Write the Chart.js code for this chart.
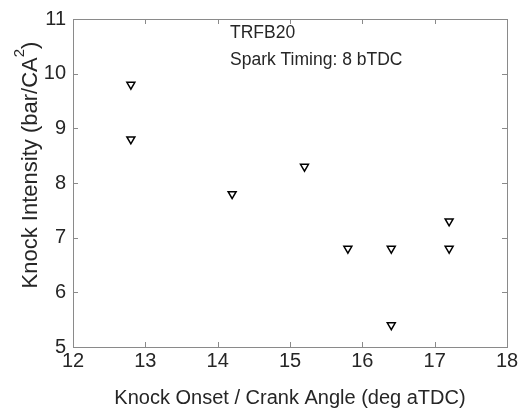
<!DOCTYPE html>
<html><head><meta charset="utf-8">
<script src="https://cdn.jsdelivr.net/npm/chart.js@4/dist/chart.umd.min.js"></script>
<style>html,body{margin:0;padding:0;background:#fff;overflow:hidden}</style>
</head><body>
<canvas id="c" width="521" height="410" style="width:521px;height:410px;display:block"></canvas>
<script>
const knockOnset = [12.8, 12.8, 14.2, 15.2, 15.8, 16.4, 16.4, 17.2, 17.2];
const knockIntensity = [9.8, 8.8, 7.8, 8.3, 6.8, 6.8, 5.4, 7.3, 6.8];
const xTicks = [12, 13, 14, 15, 16, 17, 18];
const yTicks = [5, 6, 7, 8, 9, 10, 11];
const annotationLines = ["TRFB20", "Spark Timing: 8 bTDC"];
const xTitle = "Knock Onset / Crank Angle (deg aTDC)";
const yTitleMain = "Knock Intensity (bar/CA";
const yTitleSup = "2";
const yTitleEnd = ")";

const FONT = "'Liberation Sans', Arial, sans-serif";
const TEXT = '#262626';
const AXIS = '#8a8a8a';

const points = knockOnset.map((x, i) => ({x: x, y: knockIntensity[i]}));

const boxPlugin = {
  id: 'box',
  afterDraw(chart) {
    const ctx = chart.ctx, a = chart.chartArea;
    const xs = chart.scales.x, ys = chart.scales.y;
    ctx.save();
    ctx.strokeStyle = AXIS; ctx.lineWidth = 1;
    ctx.strokeRect(Math.round(a.left) + 0.5, Math.round(a.top) + 0.5,
      Math.round(a.right - a.left), Math.round(a.bottom - a.top));
    const tl = 5;
    ctx.beginPath();
    xTicks.forEach(v => {
      const p = Math.round(xs.getPixelForValue(v)) + 0.5;
      ctx.moveTo(p, a.bottom); ctx.lineTo(p, a.bottom - tl);
      ctx.moveTo(p, a.top); ctx.lineTo(p, a.top + tl);
    });
    yTicks.forEach(v => {
      const p = Math.round(ys.getPixelForValue(v)) + 0.5;
      ctx.moveTo(a.left, p); ctx.lineTo(a.left + tl, p);
      ctx.moveTo(a.right, p); ctx.lineTo(a.right - tl, p);
    });
    ctx.stroke();

    // annotation text
    ctx.fillStyle = TEXT;
    ctx.font = '17.5px ' + FONT;
    ctx.textAlign = 'left'; ctx.textBaseline = 'middle';
    ctx.fillText(annotationLines[0], 230, 33);
    ctx.fillText(annotationLines[1], 230, 60);

    // y title with superscript
    const mainSize = 22, supSize = 15;
    ctx.font = mainSize + 'px ' + FONT;
    const w1 = ctx.measureText(yTitleMain).width;
    ctx.font = supSize + 'px ' + FONT;
    const w2 = ctx.measureText(yTitleSup).width;
    ctx.font = mainSize + 'px ' + FONT;
    const w3 = ctx.measureText(yTitleEnd).width;
    const total = w1 + w2 + w3;
    ctx.translate(31, 165);
    ctx.rotate(-Math.PI / 2);
    ctx.textBaseline = 'middle';
    let x0 = -total / 2;
    ctx.fillText(yTitleMain, x0, 0);
    ctx.font = supSize + 'px ' + FONT;
    ctx.fillText(yTitleSup, x0 + w1, -11);
    ctx.font = mainSize + 'px ' + FONT;
    ctx.fillText(yTitleEnd, x0 + w1 + w2, 0);
    ctx.restore();
  }
};

new Chart(document.getElementById('c'), {
  type: 'scatter',
  data: {
    datasets: [{
      data: points,
      pointStyle: 'triangle',
      rotation: 180,
      radius: 4.6,
      hoverRadius: 4.6,
      borderColor: '#000',
      borderWidth: 1.5,
      backgroundColor: 'rgba(0,0,0,0)'
    }]
  },
  options: {
    responsive: false,
    animation: false,
    devicePixelRatio: 1,
    layout: {padding: {left: 0, right: 14, top: 12, bottom: 0}},
    plugins: {legend: {display: false}, tooltip: {enabled: false}},
    scales: {
      x: {
        type: 'linear', min: 12, max: 18,
        afterBuildTicks: s => { s.ticks = xTicks.map(v => ({value: v})); },
        afterFit: s => { s.height = 410 - 347; },
        grid: {display: false, drawTicks: false},
        border: {display: false},
        ticks: {color: TEXT, font: {family: FONT, size: 20}, padding: 2, maxRotation: 0},
        title: {display: true, text: xTitle, color: TEXT, font: {family: FONT, size: 20}, padding: {top: 2, bottom: 0}}
      },
      y: {
        type: 'linear', min: 5, max: 11,
        afterBuildTicks: s => { s.ticks = yTicks.map(v => ({value: v})); },
        afterFit: s => { s.width = 73; },
        grid: {display: false, drawTicks: false},
        border: {display: false},
        ticks: {color: TEXT, font: {family: FONT, size: 20}, padding: 7}
      }
    }
  },
  plugins: [boxPlugin]
});
</script>
</body></html>
